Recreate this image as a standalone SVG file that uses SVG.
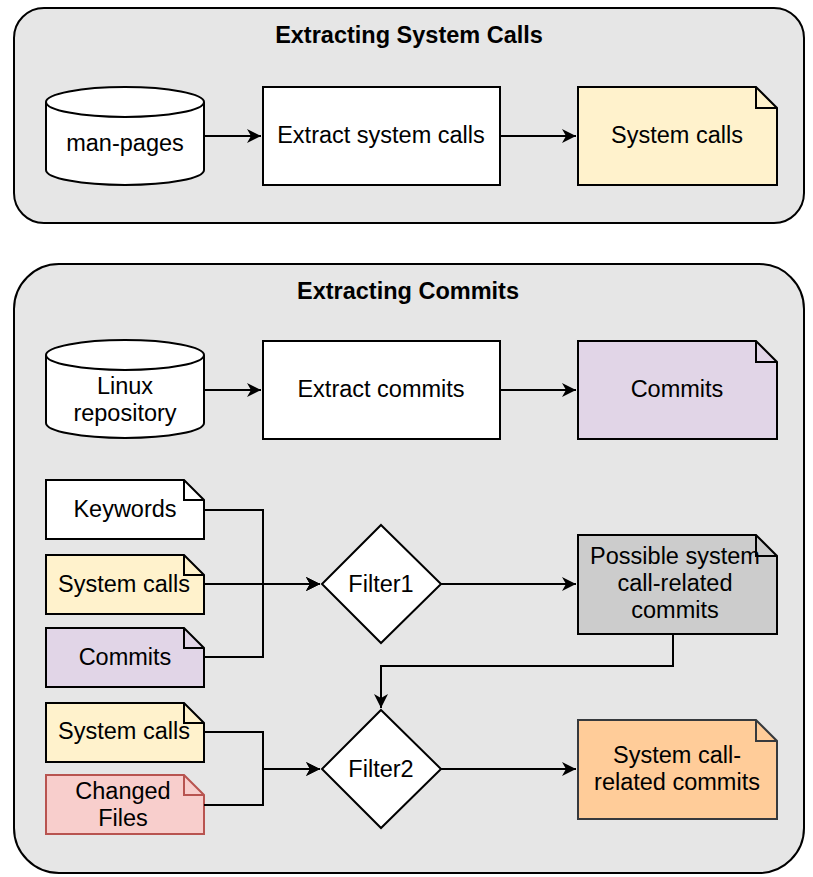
<svg xmlns="http://www.w3.org/2000/svg" width="813" height="877" viewBox="0 0 813 877">
<style>
text{font-family:"Liberation Sans",Arial,Helvetica,sans-serif;font-size:23.5px;fill:#000;text-anchor:middle;dominant-baseline:central}
.title{font-weight:bold;font-size:23.5px}
.box{fill:#fff;stroke:#000;stroke-width:2}
.cont{fill:#e6e6e6;stroke:#000;stroke-width:2}
.edge{fill:none;stroke:#000;stroke-width:2}
</style>
<defs>
<marker id="arr" markerUnits="userSpaceOnUse" markerWidth="16" markerHeight="14" viewBox="0 0 16 14" refX="14" refY="7" orient="auto">
<path d="M0,0 L14,7 L0,14 L4,7 Z" fill="#000"/>
</marker>
</defs>
<g id="container-syscalls">
<rect class="cont" x="14" y="8" width="790" height="215" rx="30" ry="30"/>
<text class="title" x="409" y="35">Extracting System Calls</text>
</g>
<g id="container-commits">
<rect class="cont" x="14" y="264" width="790" height="609" rx="45" ry="45"/>
<text class="title" x="408" y="291">Extracting Commits</text>
</g>
<g id="man-pages">
<path class="box" d="M46,102 A79,15 0 0 1 204,102 L204,170 A79,15 0 0 1 46,170 Z"/>
<path class="edge" d="M46,102 A79,15 0 0 0 204,102"/>
<text x="125" y="143">man-pages</text>
</g>
<g id="extract-syscalls">
<rect class="box" x="263" y="87" width="237" height="98"/>
<text x="381" y="135">Extract system calls</text>
</g>
<g id="syscalls-out">
<path d="M578,87 L756,87 L777,108 L777,185 L578,185 Z" fill="#fff2cc" stroke="#000" stroke-width="2"/>
<path d="M756,87 L756,108 L777,108" fill="none" stroke="#000" stroke-width="2"/>
<text x="677" y="135">System calls</text>
</g>
<g id="linux-repo">
<path class="box" d="M46,355 A79,15 0 0 1 204,355 L204,423 A79,15 0 0 1 46,423 Z"/>
<path class="edge" d="M46,355 A79,15 0 0 0 204,355"/>
<text x="125" y="386">Linux</text>
<text x="125" y="413">repository</text>
</g>
<g id="extract-commits">
<rect class="box" x="263" y="341" width="237" height="98"/>
<text x="381" y="389">Extract commits</text>
</g>
<g id="commits-out">
<path d="M578,341 L756,341 L777,362 L777,439 L578,439 Z" fill="#e1d5e7" stroke="#000" stroke-width="2"/>
<path d="M756,341 L756,362 L777,362" fill="none" stroke="#000" stroke-width="2"/>
<text x="677" y="389">Commits</text>
</g>
<g id="keywords">
<path d="M46,480 L184,480 L204,500 L204,539 L46,539 Z" fill="#fff" stroke="#000" stroke-width="2"/>
<path d="M184,480 L184,500 L204,500" fill="none" stroke="#000" stroke-width="2"/>
<text x="125" y="509">Keywords</text>
</g>
<g id="syscalls-in1">
<path d="M46,555 L184,555 L204,575 L204,614 L46,614 Z" fill="#fff2cc" stroke="#000" stroke-width="2"/>
<path d="M184,555 L184,575 L204,575" fill="none" stroke="#000" stroke-width="2"/>
<text x="124" y="584">System calls</text>
</g>
<g id="commits-in">
<path d="M46,628 L184,628 L204,648 L204,687 L46,687 Z" fill="#e1d5e7" stroke="#000" stroke-width="2"/>
<path d="M184,628 L184,648 L204,648" fill="none" stroke="#000" stroke-width="2"/>
<text x="125" y="657">Commits</text>
</g>
<g id="filter1">
<path class="box" d="M381,525 L441,584 L381,643 L322,584 Z"/>
<text x="381" y="584">Filter1</text>
</g>
<g id="possible-commits">
<path d="M578,535 L756,535 L777,556 L777,634 L578,634 Z" fill="#cccccc" stroke="#000" stroke-width="2"/>
<path d="M756,535 L756,556 L777,556" fill="none" stroke="#000" stroke-width="2"/>
<text x="675" y="556">Possible system</text>
<text x="675" y="583">call-related</text>
<text x="675" y="610">commits</text>
</g>
<g id="syscalls-in2">
<path d="M46,703 L184,703 L204,723 L204,762 L46,762 Z" fill="#fff2cc" stroke="#000" stroke-width="2"/>
<path d="M184,703 L184,723 L204,723" fill="none" stroke="#000" stroke-width="2"/>
<text x="124" y="731">System calls</text>
</g>
<g id="changed-files">
<path d="M46,775 L184,775 L204,795 L204,834 L46,834 Z" fill="#f8cecc" stroke="#b85450" stroke-width="2"/>
<path d="M184,775 L184,795 L204,795" fill="none" stroke="#b85450" stroke-width="2"/>
<text x="123" y="791">Changed</text>
<text x="123" y="818">Files</text>
</g>
<g id="filter2">
<path class="box" d="M381,710 L441,769 L381,828 L322,769 Z"/>
<text x="381" y="769">Filter2</text>
</g>
<g id="related-commits">
<path d="M578,720 L756,720 L777,741 L777,819 L578,819 Z" fill="#ffcc99" stroke="#36393d" stroke-width="2"/>
<path d="M756,720 L756,741 L777,741" fill="none" stroke="#36393d" stroke-width="2"/>
<text x="677" y="755">System call-</text>
<text x="677" y="782">related commits</text>
</g>
<g id="connectors">
<path class="edge" d="M204,136 L261,136" marker-end="url(#arr)"/>
<path class="edge" d="M500,136 L576,136" marker-end="url(#arr)"/>
<path class="edge" d="M204,390 L261,390" marker-end="url(#arr)"/>
<path class="edge" d="M500,390 L576,390" marker-end="url(#arr)"/>
<path class="edge" d="M204,510 L263,510 L263,584 L320,584" marker-end="url(#arr)"/>
<path class="edge" d="M204,584 L320,584" marker-end="url(#arr)"/>
<path class="edge" d="M204,657 L263,657 L263,584 L320,584" marker-end="url(#arr)"/>
<path class="edge" d="M441,584 L576,584" marker-end="url(#arr)"/>
<path class="edge" d="M673,634 L673,666 L381,666 L381,708" marker-end="url(#arr)"/>
<path class="edge" d="M204,732 L263,732 L263,769 L320,769" marker-end="url(#arr)"/>
<path class="edge" d="M204,805 L263,805 L263,769 L320,769" marker-end="url(#arr)"/>
<path class="edge" d="M441,769 L576,769" marker-end="url(#arr)"/>
</g>
</svg>
